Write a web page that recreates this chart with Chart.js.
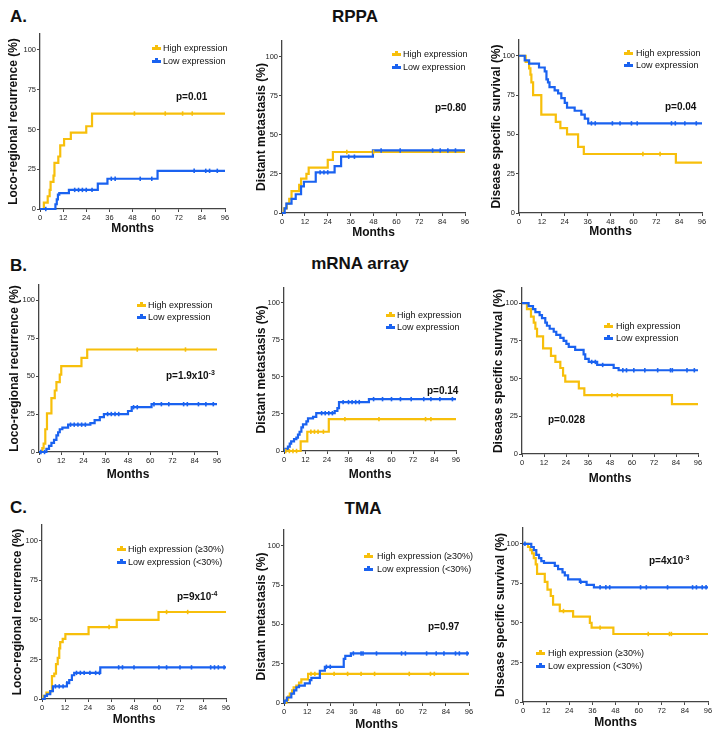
<!DOCTYPE html>
<html><head><meta charset="utf-8">
<script src="https://cdn.jsdelivr.net/npm/chart.js@4/dist/chart.umd.min.js"></script>
<style>
body{margin:0;background:#fff;}
#fig{position:relative;width:721px;height:739px;overflow:hidden;font-family:"Liberation Sans",Arial,Helvetica,sans-serif;color:#111;background:#fff;}
#fig canvas{position:absolute;}
.t{position:absolute;white-space:nowrap;line-height:1;}
.sec{font-size:17px;font-weight:bold;transform:translateY(-50%);}
.ttl{font-size:17px;font-weight:bold;transform:translate(-50%,-50%);}
.lg{font-size:9px;transform:translateY(-50%);color:#111;}
.pv{font-size:10px;font-weight:bold;transform:translateY(-50%);}
.pv sup{font-size:7px;vertical-align:top;position:relative;top:-2px;}
.sw{position:absolute;height:3px;width:9px;}
.sw::after{content:"";position:absolute;left:3px;top:-2px;width:3px;height:2px;background:inherit;}
</style></head><body><div id="fig"></div>
<script>
// ---------- tick labels & text ----------
const xTicks = [0, 12, 24, 36, 48, 60, 72, 84, 96];
const yTicks = [0, 25, 50, 75, 100];
const xTitle = "Months";
const yTitles = ["Loco-regional recurrence (%)", "Distant metastasis (%)", "Disease specific survival (%)"];
const sectionLabels = ["A.", "B.", "C."];
const sectionTitles = ["RPPA", "mRNA array", "TMA"];
const legendAB = ["High expression", "Low expression"];
const legendC = ["High expression (\u226530%)", "Low expression (<30%)"];
const pValues = [["p=0.01",""],["p=0.80",""],["p=0.04",""],["p=1.9x10","-3"],["p=0.14",""],["p=0.028",""],["p=9x10","-4"],["p=0.97",""],["p=4x10","-3"]];

// ---------- series: [month, %] step points, and censor times ----------
// A. RPPA
const rppaLrrHigh = [[0,0],[2,4],[4,8],[5,12],[5.5,17],[7,21],[7.5,29],[9.5,33],[10.5,40],[12.5,44],[16,48],[24,52],[27,60],[96,60]];
const rppaLrrHighCens = [49,65,74,79];
const rppaLrrLow = [[0,0],[8,3],[8.7,6],[9.3,9],[10,10],[15,12],[30,16],[35,19],[61,24],[96,24]];
const rppaLrrLowCens = [3,18,20,22,24,27,37,39,52,58,80,86,88,92];

const rppaDmHigh = [[0,0],[1,3],[2.5,6],[3.8,9],[5,14],[9,18],[10,22],[12.8,25],[14,29],[24,34],[26.7,39],[96,39]];
const rppaDmHighCens = [34,48];
const rppaDmLow = [[0,0],[1.4,3],[2.3,6],[5,9],[7.2,12],[10,17],[11.5,20],[17.7,26],[27.6,30],[31,36],[47.7,40],[96,40]];
const rppaDmLowCens = [20,22,24,35,38,52,62,79,83,87,91];

const rppaDssHigh = [[0,100],[3.5,96],[5.3,92],[6,88],[6.5,83],[7.4,75],[11.7,62.5],[19.3,58],[21.7,54],[25.2,50],[31,42],[34,37.5],[82.3,32],[96,32]];
const rppaDssHighCens = [65,74];
const rppaDssLow = [[0,100],[3,97],[5.3,95],[10.5,92.5],[13.5,90],[14.4,85],[15.2,83],[16,80],[18.7,78],[20.5,76],[22.2,73],[24,70],[25.2,67],[29.2,65],[32.7,62.5],[34.5,60],[36.3,57],[96,57]];
const rppaDssLowCens = [38,40,49,53,59,62,80,82,87,93];

// B. mRNA array
const mrnaLrrHigh = [[0,0],[1.8,2.5],[2.5,5.5],[3.4,15],[4.3,25.5],[6.7,35.5],[8.5,40.5],[9.4,46],[11.2,51],[12,56.5],[22.9,62],[26,67.5],[96,67.5]];
const mrnaLrrHighCens = [53,79];
const mrnaLrrLow = [[0,0],[4,2],[5.4,4],[6.7,6],[8.1,8],[9.4,11],[10.3,13],[11.2,15],[12.6,16],[15.7,18],[27.7,19],[30,21],[32.8,23],[35,25],[48,27],[50,29.5],[60.7,31.5],[96,31.5]];
const mrnaLrrLowCens = [1,3,17,19,21,23,25,37,39,41,43,51,53,62,66,70,78,80,86,90,94];

const mrnaDmHigh = [[0,0],[9.3,6.5],[13,13],[25,21.5],[96,21.5]];
const mrnaDmHighCens = [1,3,5,7,15,17,19,22,34,53,79,82];
const mrnaDmLow = [[0,0],[0.7,1.5],[2.2,3],[3.2,5],[4,6.5],[5.6,8],[6.9,9],[7.8,11],[8.7,13],[9.7,16],[10.6,18],[12.5,20],[13.4,22],[16.2,23],[18,25.5],[28.3,27],[29.8,29],[30.7,33],[47.4,35],[96,35]];
const mrnaDmLowCens = [21,23,25,27,33,36,38,40,42,50,55,60,65,71,78,82,87,94];

const mrnaDssHigh = [[0,100],[2.7,96],[4.9,91],[6.4,87],[7.3,83],[8.2,78],[11.5,70],[15.8,65],[18.2,61],[20.9,57],[22.4,52],[23.6,48],[31,43.5],[34,39],[81.8,33],[96,33]];
const mrnaDssHighCens = [49,52];
const mrnaDssLow = [[0,100],[3.6,98],[6,96],[7.3,94],[9.6,92],[10.9,90],[12.7,87],[13.6,85],[15.1,83],[17.3,81],[18.7,79],[20.9,77],[22.7,75],[24.2,73],[25.5,71],[29,69],[33.6,66],[34.5,63],[36.4,61],[41,59],[50,57],[52.7,55.5],[96,55.5]];
const mrnaDssLowCens = [38,40,44,55,57,61,67,74,81,82,90,94];

// C. TMA
const tmaLrrHigh = [[0,0],[0.9,2],[2.3,4],[4.3,5],[5.2,14.5],[6.4,16],[7.3,22],[8.2,26],[9,32],[9.5,36],[10.8,38],[12.2,41],[24.3,45.5],[39,50],[60.8,55],[96,55]];
const tmaLrrHighCens = [35,65,76];
const tmaLrrLow = [[0,0],[1.4,2],[2.6,3],[4.3,5],[5.7,8],[13,10],[14.2,12],[15.6,15],[16.8,16.5],[30.4,20],[96,20]];
const tmaLrrLowCens = [7,9,11,13,18,20,22,25,28,30,40,42,48,61,65,72,78,88,90,92,95];

const tmaDmHigh = [[0,0],[1.2,2],[2.1,4],[3,6],[4.2,8],[5,10],[6.4,11],[7.8,13],[9,15],[12.5,18.5],[96,18.5]];
const tmaDmHighCens = [14,16,26,33,40,47,65,76,78];
const tmaDmLow = [[0,0],[0.3,1.5],[1.5,3.5],[3.8,6],[5.2,8],[6.4,10],[7.8,11],[10.8,12.5],[13.4,14.5],[14.2,16],[18.6,20.5],[21.2,23],[31,28],[31.8,30],[34.7,31.5],[96,31.5]];
const tmaDmLowCens = [22,24,36,40,41,48,61,63,74,79,83,89,91,95];

const tmaDssHigh = [[0,100],[2.6,98],[3.8,96],[4.7,94],[5.6,91],[6.6,87],[7.3,81],[11.3,76],[12.7,71],[14.4,67],[15.6,61.5],[19.1,57.5],[26,54],[34.7,50],[35.6,47],[46.9,43],[96,43]];
const tmaDssHighCens = [21,40,65,76,77];
const tmaDssLow = [[0,100],[4.3,98],[5.6,96],[6.9,93],[8.3,91],[9.5,89],[10.9,88],[16.5,86],[18.2,84],[20.5,82],[21.7,80],[23.4,77.5],[29.5,76],[33,74],[36.8,72.5],[96,72.5]];
const tmaDssLowCens = [1,30,40,43,45,61,64,75,88,90,93,95];

const panelSeries = [
  [rppaLrrHigh, rppaLrrHighCens, rppaLrrLow, rppaLrrLowCens],
  [rppaDmHigh, rppaDmHighCens, rppaDmLow, rppaDmLowCens],
  [rppaDssHigh, rppaDssHighCens, rppaDssLow, rppaDssLowCens],
  [mrnaLrrHigh, mrnaLrrHighCens, mrnaLrrLow, mrnaLrrLowCens],
  [mrnaDmHigh, mrnaDmHighCens, mrnaDmLow, mrnaDmLowCens],
  [mrnaDssHigh, mrnaDssHighCens, mrnaDssLow, mrnaDssLowCens],
  [tmaLrrHigh, tmaLrrHighCens, tmaLrrLow, tmaLrrLowCens],
  [tmaDmHigh, tmaDmHighCens, tmaDmLow, tmaDmLowCens],
  [tmaDssHigh, tmaDssHighCens, tmaDssLow, tmaDssLowCens]
];

// ---------- layout (pixels) ----------
const geom = [
 {x0:40, x96:225,y0:209,y100:50, tdx:26,mdy:20,lgLine:152,lgText:163,lgY:[48,61],  p:[176,97]},
 {x0:282,x96:465,y0:213,y100:57, tdx:20,mdy:20,lgLine:392,lgText:403,lgY:[54,67],  p:[435,108]},
 {x0:519,x96:702,y0:213,y100:56, tdx:22,mdy:19,lgLine:624,lgText:636,lgY:[53,65],  p:[665,107]},
 {x0:39, x96:217,y0:452,y100:300,tdx:24,mdy:23,lgLine:137,lgText:148,lgY:[305,317],p:[166,376]},
 {x0:284,x96:456,y0:451,y100:303,tdx:22,mdy:24,lgLine:386,lgText:397,lgY:[315,327],p:[427,391]},
 {x0:522,x96:698,y0:454,y100:303,tdx:23,mdy:25,lgLine:604,lgText:616,lgY:[326,338],p:[548,420]},
 {x0:42, x96:226,y0:699,y100:541,tdx:24,mdy:21,lgLine:117,lgText:128,lgY:[549,562],p:[177,597]},
 {x0:284,x96:469,y0:703,y100:546,tdx:22,mdy:22,lgLine:364,lgText:377,lgY:[556,569],p:[428,627]},
 {x0:523,x96:708,y0:702,y100:544,tdx:22,mdy:21,lgLine:536,lgText:548,lgY:[653,666],p:[649,561]}
];
const sectionPos = [{x:10,y:16},{x:10,y:265},{x:10,y:507}];
const titlePos = [{x:355,y:16},{x:360,y:263},{x:363,y:508}];

const FONT = '"Liberation Sans", Arial, Helvetica, sans-serif';
const HIGH = '#F7BF0B';
const LOW = '#1A62F0';
const fig = document.getElementById('fig');

function addText(cls, x, y, html) {
  const d = document.createElement('div');
  d.className = 't ' + cls;
  d.style.left = x + 'px'; d.style.top = y + 'px';
  d.innerHTML = html;
  fig.appendChild(d);
  return d;
}
function stepValue(curve, t) {
  let v = curve[0][1];
  for (const [x, y] of curve) { if (x <= t) v = y; }
  return v;
}

sectionLabels.forEach((s, i) => addText('sec', sectionPos[i].x, sectionPos[i].y, s));
sectionTitles.forEach((s, i) => addText('ttl', titlePos[i].x, titlePos[i].y, s));

const L = 44, T = 10, R = 10, B = 38;

geom.forEach((g, i) => {
  const [high, highC, low, lowC] = panelSeries[i];
  const yTop = g.y0 - 1.1 * (g.y0 - g.y100);
  const w = Math.round((g.x96 - g.x0) + L + R);
  const h = Math.round((g.y0 - yTop) + T + B);
  const cv = document.createElement('canvas');
  cv.width = w; cv.height = h;
  cv.style.width = w + 'px'; cv.style.height = h + 'px';
  cv.style.left = (g.x0 - L) + 'px';
  cv.style.top = Math.round(yTop - T) + 'px';
  fig.appendChild(cv);
  const lineDs = (c, col) => ({data: c.map(([x, y]) => ({x, y})), borderColor: col, backgroundColor: col,
    borderWidth: 2.2, stepped: true, pointRadius: 0, fill: false, clip: false, order: 2});
  const censDs = (ts, c, col) => ({data: ts.map(t => ({x: t, y: stepValue(c, t)})), showLine: false,
    pointStyle: 'line', rotation: 90, pointRadius: 2.2, pointBorderWidth: 1.6, borderColor: col,
    backgroundColor: col, clip: false, order: 1});
  new Chart(cv, {
    type: 'line',
    data: {datasets: [lineDs(low, LOW), censDs(lowC, low, LOW), lineDs(high, HIGH), censDs(highC, high, HIGH)]},
    options: {
      responsive: false, animation: false, devicePixelRatio: 1,
      layout: {padding: {left: 0, top: T, right: R, bottom: 0}},
      plugins: {legend: {display: false}, tooltip: {enabled: false}},
      events: [],
      scales: {
        x: {type: 'linear', min: 0, max: 96,
          afterBuildTicks: s => { s.ticks = xTicks.map(v => ({value: v})); },
          afterFit: s => { s.height = B; },
          ticks: {font: {size: 7.5, family: FONT}, color: '#222', padding: 1, maxRotation: 0, autoSkip: false},
          grid: {display: true, drawOnChartArea: false, drawTicks: true, tickLength: 3, color: '#444', lineWidth: 1},
          border: {display: true, color: '#444', width: 1.3},
          title: {display: true, text: xTitle, color: '#111', font: {size: 12, weight: 'bold', family: FONT},
            padding: {top: 0, bottom: B - g.mdy - 7.2}}
        },
        y: {type: 'linear', min: 0, max: 110,
          afterBuildTicks: s => { s.ticks = yTicks.map(v => ({value: v})); },
          afterFit: s => { s.width = L; },
          ticks: {font: {size: 7.5, family: FONT}, color: '#222', padding: 1, autoSkip: false},
          grid: {display: true, drawOnChartArea: false, drawTicks: true, tickLength: 3, color: '#444', lineWidth: 1},
          border: {display: true, color: '#444', width: 1.3},
          title: {display: true, text: yTitles[i % 3], color: '#111', font: {size: 12, weight: 'bold', family: FONT},
            padding: {top: L - g.tdx - 7.2, bottom: 0}}
        }
      }
    }
  });
  const labels = i < 6 ? legendAB : legendC;
  [HIGH, LOW].forEach((col, k) => {
    const sw = document.createElement('div');
    sw.className = 'sw';
    sw.style.background = col;
    sw.style.left = g.lgLine + 'px';
    sw.style.top = (g.lgY[k] - 1) + 'px';
    fig.appendChild(sw);
    addText('lg', g.lgText, g.lgY[k], labels[k]);
  });
  const [pb, pe] = pValues[i];
  addText('pv', g.p[0], g.p[1], pb + (pe ? '<sup>' + pe + '</sup>' : ''));
});
</script>
</body></html>
